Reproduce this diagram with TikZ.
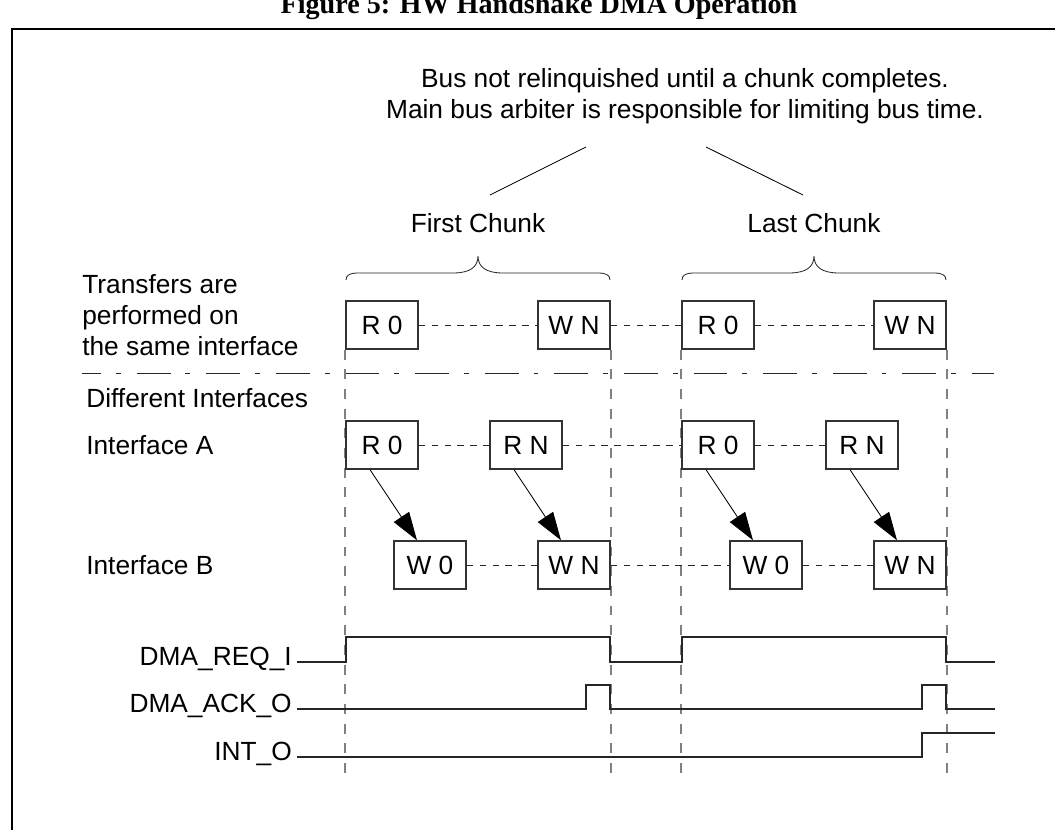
\documentclass[tikz,border=0pt]{standalone}
\usepackage{fontspec}
\setmainfont{Liberation Sans}
\newfontfamily\titlefont{Liberation Serif}
\usetikzlibrary{arrows.meta,calc}

\tikzset{
  xfer/.style={draw=black!80,line width=1.1pt,fill=white,minimum width=51pt,minimum height=34pt,inner sep=0pt},
  link/.style={black!85,line width=0.6pt,dash pattern=on 4.6pt off 4.6pt},
  guide/.style={black!50,line width=1.3pt,dash pattern=on 7pt off 7pt},
  sig/.style={black!85,line width=1.2pt},
  flow/.style={line width=0.6pt,-{Triangle[length=20pt,width=13pt]}},
  siglabel/.style={anchor=mid east,inner sep=0pt},
  rowlabel/.style={anchor=base west,inner sep=0pt}
}

\begin{document}
\begin{tikzpicture}[x=0.025cm,y=-0.025cm,font=\fontsize{18.7}{22}\selectfont]
    \useasboundingbox (0,0) rectangle (1055,830);
    % Frame and caption
    \node[anchor=base,font=\titlefont\bfseries\fontsize{20}{24}\selectfont] (title) at (539,13)
         {Figure 5: HW Handshake DMA Operation};
    \draw[line width=2pt] (12,900) -- (12,29) -- (1100,29);
    % Note on the bus
    \node[anchor=north,align=center,inner sep=0pt] (note) at (685,68)
         {Bus not relinquished until a chunk completes.\\Main bus arbiter is responsible for limiting bus time.};
    \node[anchor=base,inner sep=0pt] (first) at (478,232) {First Chunk};
    \node[anchor=base,inner sep=0pt] (last) at (814,232) {Last Chunk};
    \coordinate (firstfoot) at (490,195);
    \coordinate (firsttop) at (586,147);
    \coordinate (lasttop) at (706,147);
    \coordinate (lastfoot) at (803,195);
    \draw[line width=0.6pt] (firstfoot) -- (firsttop);
    \draw[line width=0.6pt] (lasttop) -- (lastfoot);
    % Chunk braces
    \foreach \a/\b in {346/610,682/946} {
      \pgfmathsetmacro{\m}{(\a+\b)/2}
      \draw[black!85,line width=0.6pt] (\a,280) .. controls (\a,275) and (\a+4,273) .. (\a+12,273)
           -- (\m-25,273) .. controls (\m-8,273) and (\m,267) .. (\m,256)
           .. controls (\m,267) and (\m+8,273) .. (\m+25,273)
           -- (\b-12,273) .. controls (\b-4,273) and (\b,275) .. (\b,280);
    }
    % Row labels
    \node[anchor=north west,align=left,inner sep=0pt] (same) at (82,274)
         {Transfers are\\performed on\\the same interface};
    \node[rowlabel] (diff) at (86,407) {Different Interfaces};
    \node[rowlabel] (ifa) at (86,454) {Interface A};
    \node[rowlabel] (ifb) at (86,574) {Interface B};
    \draw[black!85,line width=0.6pt,dash pattern=on 24.1pt off 10.6pt on 3.5pt off 11.3pt,dash phase=10.6pt]
         (82,373) -- (994,373);
    % Same interface
    \node[xfer] (sr0) at (382,325) {R 0};
    \node[xfer] (swn) at (574,325) {W N};
    \node[xfer] (sr0b) at (718,325) {R 0};
    \node[xfer] (swnb) at (910,325) {W N};
    % Chunk boundaries
    \foreach \n in {sr0.south west,swn.south east,sr0b.south west,swnb.south east}
      \draw[guide] (\n) -- (\n |- 0,780);
    \draw[link] (sr0) -- (swn);
    \draw[link] (swn) -- (sr0b);
    \draw[link] (sr0b) -- (swnb);
    % Interface A and B
    \node[xfer] (ar0) at (382,445) {R 0};
    \node[xfer] (arn) at (526,445) {R N};
    \node[xfer] (ar0b) at (718,445) {R 0};
    \node[xfer] (arnb) at (862,445) {R N};
    \node[xfer] (bw0) at (430,565) {W 0};
    \node[xfer] (bwn) at (574,565) {W N};
    \node[xfer] (bw0b) at (766,565) {W 0};
    \node[xfer] (bwnb) at (910,565) {W N};
    \draw[link] (ar0) -- (arn);
    \draw[link] (arn) -- (ar0b);
    \draw[link] (ar0b) -- (arnb);
    \draw[link] (bw0) -- (bwn);
    \draw[link] (bwn) -- (bw0b);
    \draw[link] (bw0b) -- (bwnb);
    \foreach \r/\w in {ar0/bw0,arn/bwn,ar0b/bw0b,arnb/bwnb}
      \draw[flow] ($(\r.south)+(-12,0)$) -- ($(\w.north)+(-13,0)$);
    % Handshake signals
    \node[siglabel] (req) at (292,662) {DMA\_REQ\_I};
    \node[siglabel] (ack) at (292,709) {DMA\_ACK\_O};
    \node[siglabel] (int) at (292,757) {INT\_O};
    \draw[sig] ($(req.mid east)+(5,0)$) -- (346,662) |- (610,637) |- (682,662) |- (946,637) |- (995,662);
    \draw[sig] ($(ack.mid east)+(5,0)$) -- (586,709) |- (610,685) |- (922,709) |- (946,685) |- (995,709);
    \draw[sig] ($(int.mid east)+(5,0)$) -- (922,757) |- (995,733);
\end{tikzpicture}
\end{document}
